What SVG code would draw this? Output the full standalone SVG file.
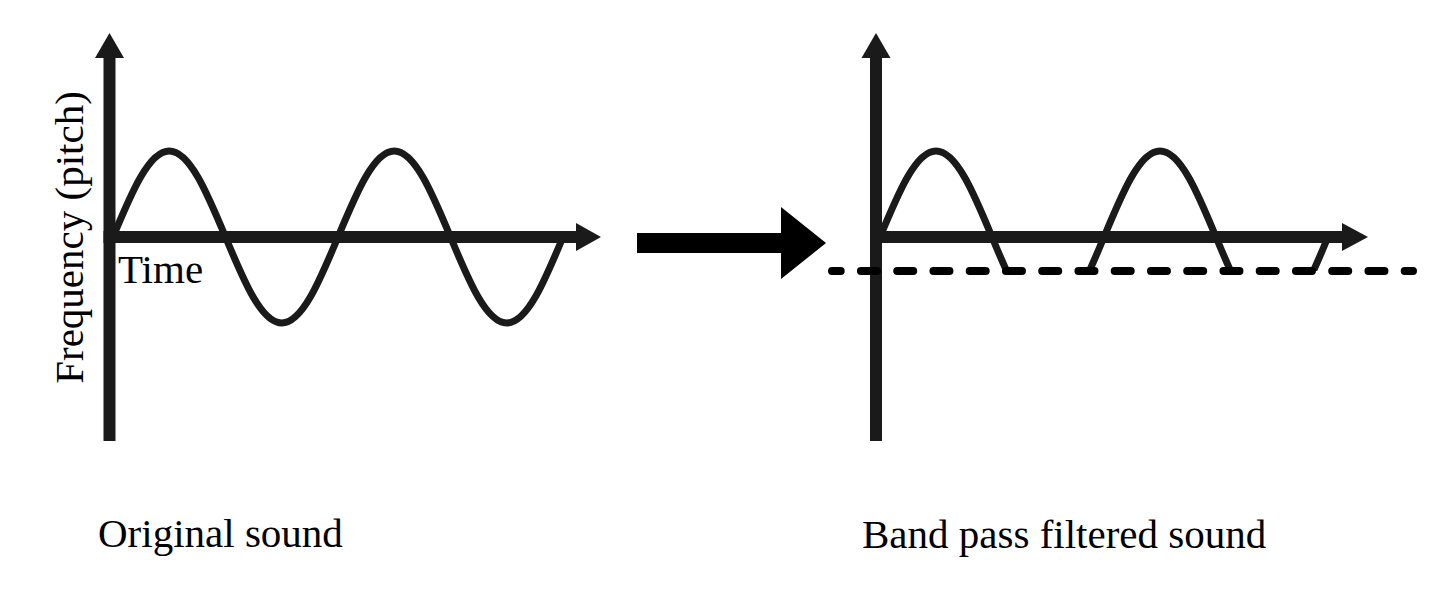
<svg xmlns="http://www.w3.org/2000/svg" width="1456" height="601" viewBox="0 0 1456 601">
  <style>
    .axis { stroke: #1a1a1a; stroke-width: 12; fill: none; }
    .head { fill: #1a1a1a; stroke: none; }
    .wave { stroke: #1a1a1a; stroke-width: 7; fill: none; stroke-linejoin: round; }
    .dash { stroke: #000; stroke-width: 8; fill: none; stroke-linecap: round; stroke-dasharray: 16 20.25; stroke-dashoffset: 7.3; }
    .lbl { font-family: "Liberation Serif", "Times New Roman", serif; font-size: 41px; fill: #000; }
  </style>
  <defs>
    <clipPath id="cut">
      <rect x="860" y="0" width="560" height="271"/>
    </clipPath>
  </defs>
  <rect width="1456" height="601" fill="#fff"/>

  <g id="original-graph">
    <path class="wave" d="M113,237 c 18.35,-44.06 35.89,-86 56.25,-86 c 20.36,0 37.9,41.94 56.25,86 c 18.35,44.06 35.89,86 56.25,86 c 20.36,0 37.9,-41.94 56.25,-86 c 18.35,-44.06 35.89,-86 56.25,-86 c 20.36,0 37.9,41.94 56.25,86 c 18.35,44.06 35.89,86 56.25,86 c 20.36,0 37.9,-41.94 56.25,-86"/>
    <line class="axis" x1="109.5" y1="56" x2="109.5" y2="441"/>
    <polygon class="head" points="95,58 109.5,33 124,58"/>
    <line class="axis" x1="103.5" y1="237" x2="578" y2="237"/>
    <polygon class="head" points="576,223 601,237 576,251"/>
    <text class="lbl" x="118" y="283">Time</text>
    <text class="lbl" transform="translate(83,237.5) rotate(-90)" text-anchor="middle">Frequency (pitch)</text>
  </g>

  <g id="connectors">
    <polygon fill="#000" points="637,233 781,233 781,207 826,243 781,279 781,253 637,253"/>
  </g>

  <g id="filtered-graph">
    <path class="wave" clip-path="url(#cut)" d="M880,237 c 18.27,-44.06 35.73,-86 56,-86 c 20.27,0 37.73,41.94 56,86 c 18.27,44.06 35.73,86 56,86 c 20.27,0 37.73,-41.94 56,-86 c 18.27,-44.06 35.73,-86 56,-86 c 20.27,0 37.73,41.94 56,86 c 18.27,44.06 35.73,86 56,86 c 20.27,0 37.73,-41.94 56,-86"/>
    <line class="axis" x1="876" y1="56" x2="876" y2="441"/>
    <polygon class="head" points="861.5,58 876,33 890.5,58"/>
    <line class="axis" x1="870" y1="237" x2="1344" y2="237"/>
    <polygon class="head" points="1342,223 1368,237 1342,251"/>
    <line class="dash" x1="832" y1="271" x2="1413" y2="271"/>
  </g>

  <g id="captions">
    <text class="lbl" x="98" y="547">Original sound</text>
    <text class="lbl" x="862" y="548">Band pass filtered sound</text>
  </g>
</svg>
